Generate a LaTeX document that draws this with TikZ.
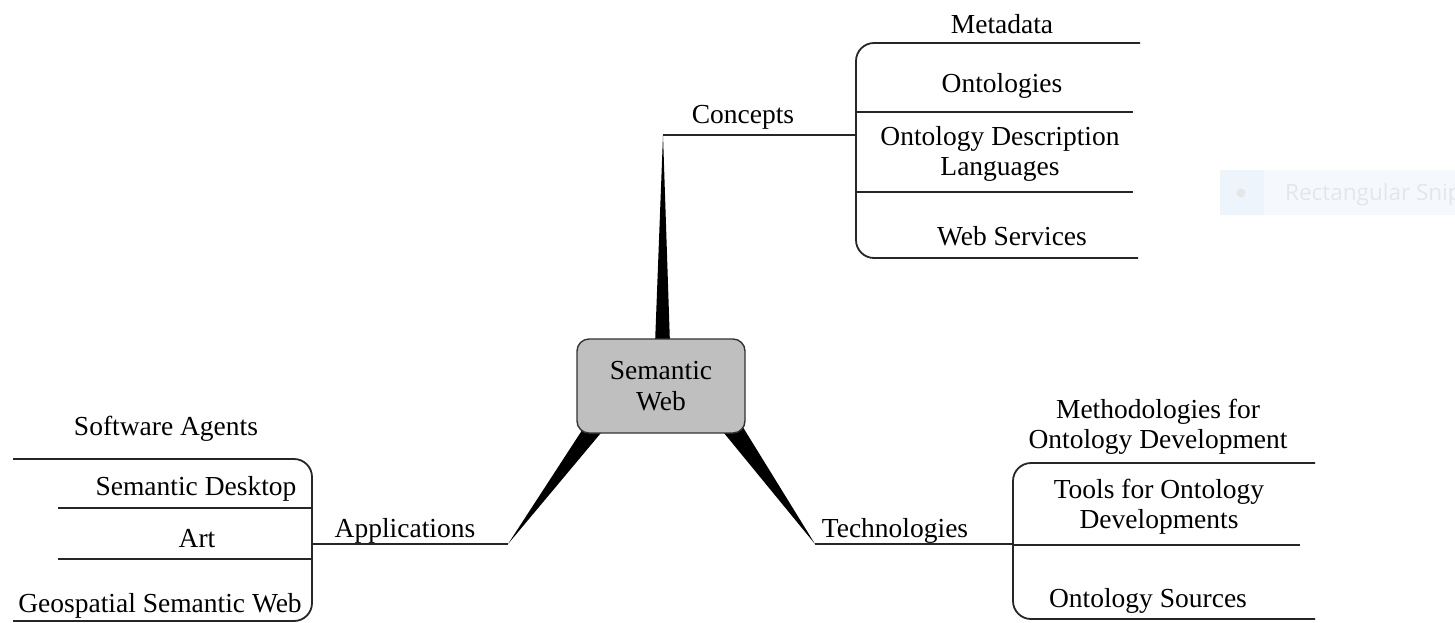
\documentclass[tikz,border=0pt]{standalone}
\usepackage{fontspec}
\setmainfont{Liberation Serif}
\newfontfamily\uifont{Open Sans}
\usetikzlibrary{calc,backgrounds}
\definecolor{tipfill}{HTML}{F5F9FE}
\definecolor{tipicon}{HTML}{EEF4FC}
\definecolor{tiptext}{HTML}{E6E6E6}
\begin{document}
\begin{tikzpicture}[x=1pt,y=-1pt,
  lbl/.style={font=\fontsize{27.5}{30}\selectfont, inner sep=0pt, align=center, anchor=base},
  branch/.style={line width=1.8pt, draw=black!85},
  bracket/.style={branch, rounded corners=18pt},
  spoke/.style={fill=black, draw=none},
  hub/.style={draw=black!80, line width=1.4pt, fill=black!25, rounded corners=12pt,
    minimum width=168pt, minimum height=94pt, inner sep=0pt, align=center,
    font=\fontsize{27.5}{31}\selectfont}]
\useasboundingbox (0,0) rectangle (1455,622);

% central topic
\node[hub] (sw) at (661,386) {Semantic\\Web};

% ends of the three tapering spokes
\coordinate (ctip) at (663,135);
\coordinate (atip) at (508,544);
\coordinate (ttip) at (815,544);

\begin{pgfonlayer}{background}
  \fill[spoke] ($(sw.north)+(-6,6)$) -- (ctip) -- ($(sw.north)+(9,6)$) -- cycle;
  \fill[spoke] ($(sw.south)+(-76,-8)$) -- (atip) -- ($(sw.south)+(-54,-8)$) -- cycle;
  \fill[spoke] ($(sw.south)+(57,-8)$) -- (ttip) -- ($(sw.south)+(81,-8)$) -- cycle;
\end{pgfonlayer}

% ---- Concepts ----
\coordinate (cjoin) at (856,135);
\draw[branch] (ctip) -- (cjoin);
\node[lbl] (concepts) at (743,123) {Concepts};
\draw[bracket] (1140,43) -- (856,43) -- (856,258) -- (1138,258);
\draw[branch] (856,112) -- (1133,112);
\draw[branch] (856,192) -- (1133,192);
\node[lbl] (metadata) at (1002,33) {Metadata};
\node[lbl] (ontologies) at (1002,92) {Ontologies};
\node[lbl] (odl) at (1000,175) {Ontology Description\\Languages};
\node[lbl] (websvc) at (1012,245) {Web Services};

% ---- Applications ----
\coordinate (ajoin) at (312,544);
\draw[branch] (atip) -- (ajoin);
\node[lbl] (apps) at (405,537) {Applications};
\draw[bracket] (13,459) -- (312,459) -- (312,621) -- (13,621);
\draw[branch] (58,508) -- (312,508);
\draw[branch] (58,559) -- (312,559);
\node[lbl] (agents) at (166,435) {Software Agents};
\node[lbl] (desktop) at (196,495) {Semantic Desktop};
\node[lbl] (art) at (197,547) {Art};
\node[lbl] (geo) at (160,612) {Geospatial Semantic Web};

% ---- Technologies ----
\coordinate (tjoin) at (1013,544);
\draw[branch] (ttip) -- (tjoin);
\node[lbl] (tech) at (895,537) {Technologies};
\draw[bracket] (1315,463) -- (1013,463) -- (1013,619) -- (1315,619);
\draw[branch] (1013,545) -- (1300,545);
\node[lbl] (method) at (1158,448) {Methodologies for\\Ontology Development};
\node[lbl] (tools) at (1159,528) {Tools for Ontology\\Developments};
\node[lbl] (sources) at (1148,607) {Ontology Sources};

% faint tooltip at the right edge
\fill[tipfill] (1220,170) rectangle (1455,215);
\fill[tipicon] (1220,170) rectangle (1264,215);
\fill[tiptext] (1241,193) circle (4.5);
\node[anchor=base west, inner sep=0pt, text=tiptext, font=\uifont\fontsize{22.5}{26}\selectfont]
  (snip) at (1285,200) {Rectangular Snip};
\end{tikzpicture}
\end{document}
